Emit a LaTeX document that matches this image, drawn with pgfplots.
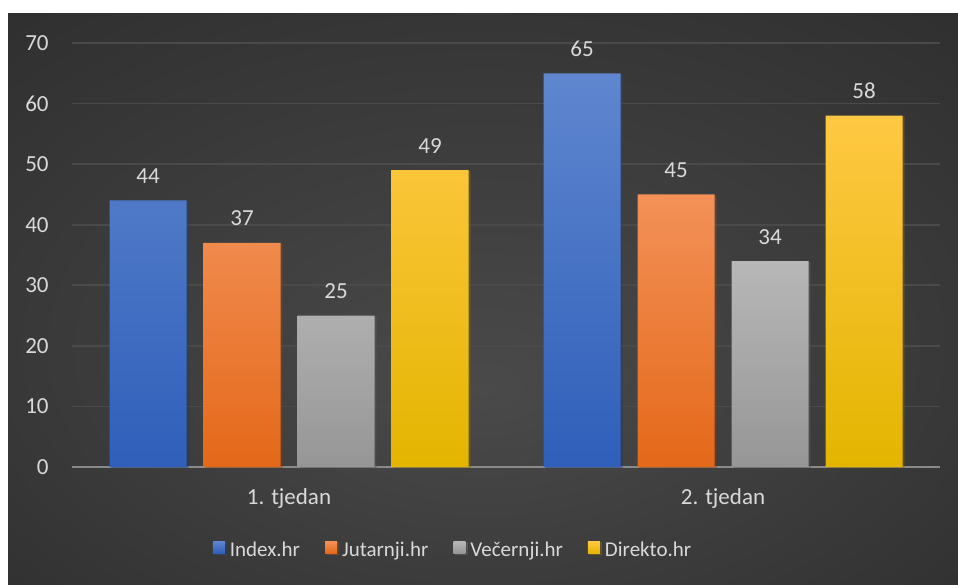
\documentclass[border=0pt]{standalone}
\usepackage{fontspec}
\setmainfont{Carlito}
\usepackage{pgfplots}
\pgfplotsset{compat=1.18}
\usetikzlibrary{shadows}

\definecolor{txt}{HTML}{D9D9D9}
\definecolor{gridc}{HTML}{4A4A4A}
\definecolor{zeroc}{HTML}{8A8A8A}
\definecolor{bgin}{HTML}{4A4A4A}
\definecolor{bgout}{HTML}{262626}
\definecolor{blueT}{HTML}{5F86CF}
\definecolor{blueB}{HTML}{2F5FBA}
\definecolor{orT}{HTML}{F39158}
\definecolor{orB}{HTML}{E46819}
\definecolor{grT}{HTML}{B7B7B7}
\definecolor{grB}{HTML}{969696}
\definecolor{yeT}{HTML}{FFC843}
\definecolor{yeB}{HTML}{E3B500}

\pgfdeclareradialshading{chartbg}{\pgfpoint{0bp}{-8bp}}{color(0bp)=(bgin); color(50bp)=(bgout)}

\begin{document}
\begin{tikzpicture}
    \useasboundingbox (0,0) rectangle (479pt,292pt);
    \fill[white] (0,0) rectangle (479pt,292pt);
    \shade[shading=chartbg] (4pt,0) rectangle (479pt,285pt);

    \begin{axis}[
        at={(36pt,58.5pt)},
        anchor=south west,
        scale only axis,
        width=434pt,
        height=212pt,
        xmin=-0.5, xmax=1.5,
        ymin=0, ymax=70,
        ytick={0,10,...,70},
        xtick={0,1},
        xticklabels={1. tjedan, 2. tjedan},
        major tick length=0pt,
        axis line style={draw=none},
        ymajorgrids,
        grid style={draw=gridc, line width=0.9pt},
        extra y ticks={0},
        extra y tick labels={},
        extra y tick style={grid style={draw=zeroc, line width=1.1pt}},
        /pgf/number format/assume math mode=true,
        ticklabel style={font=\fontsize{11.5}{13}\selectfont, text=txt, inner sep=0pt},
        yticklabel style={anchor=east, xshift=-11.5pt},
        xticklabel style={anchor=base, yshift=-18.75pt},
        ybar=8.5pt,
        bar width=38.5pt,
        nodes near coords,
        every node near coord/.append style={font=\fontsize{11.5}{13}\selectfont,
            text=txt, anchor=base, inner sep=0pt, yshift=8.5pt},
        legend columns=-1,
        legend style={draw=none, fill=none, text=txt,
            font=\fontsize{10.5}{12}\selectfont,
            at={(0.4378,-0.196)}, anchor=center,
            nodes={inner sep=0pt},
            /tikz/every odd column/.append style={column sep=2.5pt},
            /tikz/every even column/.append style={column sep=12.5pt}},
        legend image code/.code={\fill[#1] (0pt,-1.5pt) rectangle (6pt,4.5pt);},
        clip=false
    ]
        \addplot[draw=none, top color=blueT, bottom color=blueB,
            general shadow={fill=black, opacity=0.25, shadow xshift=1pt, shadow yshift=-0.5pt}]
        coordinates {(0,44) (1,65)};
        \addplot[draw=none, top color=orT, bottom color=orB,
            general shadow={fill=black, opacity=0.25, shadow xshift=1pt, shadow yshift=-0.5pt}]
        coordinates {(0,37) (1,45)};
        \addplot[draw=none, top color=grT, bottom color=grB,
            general shadow={fill=black, opacity=0.25, shadow xshift=1pt, shadow yshift=-0.5pt}]
        coordinates {(0,25) (1,34)};
        \addplot[draw=none, top color=yeT, bottom color=yeB,
            general shadow={fill=black, opacity=0.25, shadow xshift=1pt, shadow yshift=-0.5pt}]
        coordinates {(0,49) (1,58)};
        \legend{Index.hr, Jutarnji.hr, Večernji.hr, Direkto.hr}
    \end{axis}
\end{tikzpicture}
\end{document}
